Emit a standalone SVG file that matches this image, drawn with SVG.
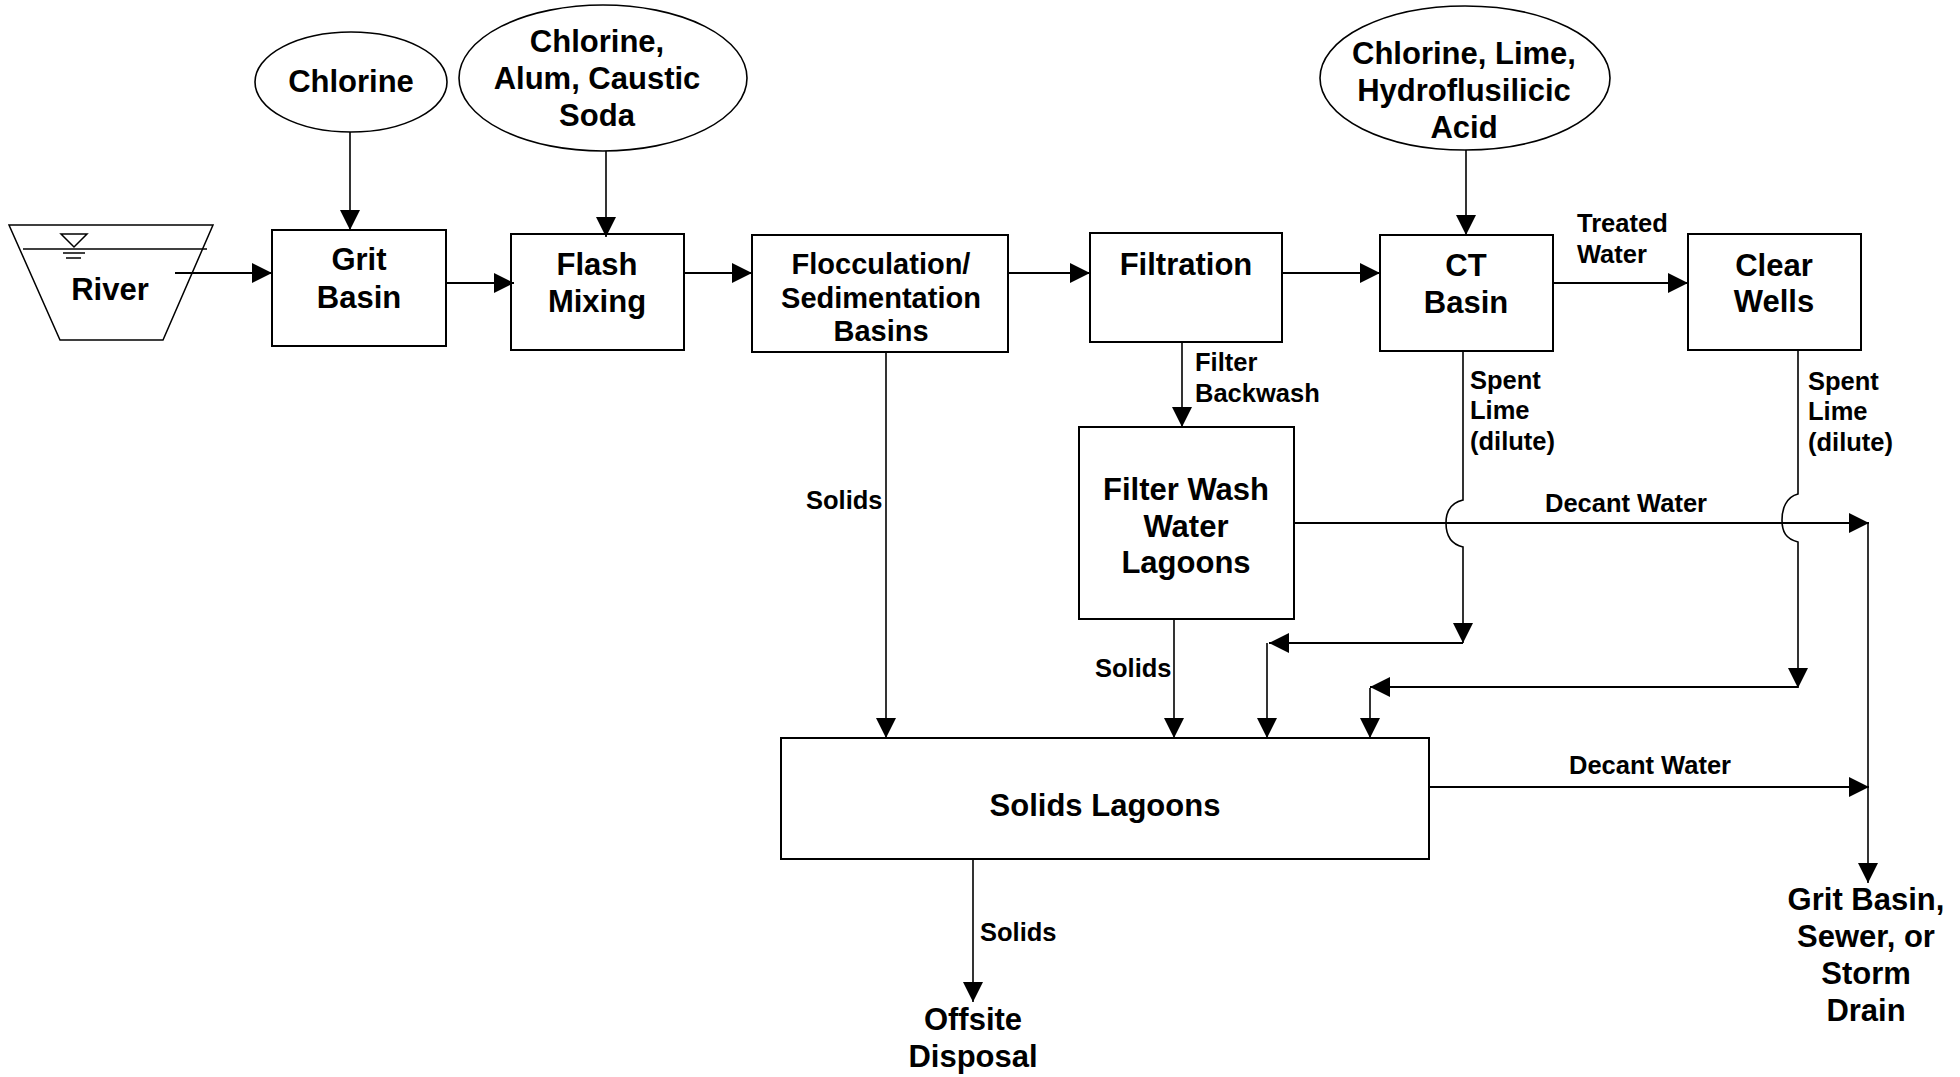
<svg xmlns="http://www.w3.org/2000/svg" width="1960" height="1077" viewBox="0 0 1960 1077">
<style>
.box{fill:#fff;stroke:#000;stroke-width:2}
.ell{fill:#fff;stroke:#000;stroke-width:1.6}
.t{font-family:"Liberation Sans",Arial,sans-serif;font-weight:bold;font-size:31px;fill:#000;text-anchor:middle}
.tf{font-size:29px}
.s{font-family:"Liberation Sans",Arial,sans-serif;font-weight:bold;font-size:25.5px;fill:#000}
.c{fill:none;stroke:#000;stroke-width:2}
.v{fill:none;stroke:#000;stroke-width:1.6}
.thin{fill:none;stroke:#000;stroke-width:1.5}
</style>
<defs>
<marker id="ah" markerUnits="userSpaceOnUse" markerWidth="20" markerHeight="20" refX="20" refY="10" orient="auto">
<path d="M0,0 L20,10 L0,20 z" fill="#000"/>
</marker>
</defs>
<rect width="1960" height="1077" fill="#fff"/>

<g id="river">
<path class="thin" d="M9,225 H213 L163,340 H60 Z"/>
<path class="thin" d="M23,249 H207"/>
<path class="thin" d="M61,234 H87 L74,247 Z"/>
<path class="thin" d="M63,253 H85 M66,258 H81"/>
<text class="t" x="110" y="300">River</text>
</g>

<g id="chlorine1">
<ellipse class="ell" cx="351" cy="82" rx="96" ry="50"/>
<text class="t" x="351" y="92">Chlorine</text>
</g>

<g id="chem2">
<ellipse class="ell" cx="603" cy="78" rx="144" ry="73"/>
<text class="t" x="597" y="52">Chlorine,</text>
<text class="t" x="597" y="89">Alum, Caustic</text>
<text class="t" x="597" y="126">Soda</text>
</g>

<g id="chem3">
<ellipse class="ell" cx="1465" cy="78" rx="145" ry="72"/>
<text class="t" x="1464" y="64">Chlorine, Lime,</text>
<text class="t" x="1464" y="101">Hydroflusilicic</text>
<text class="t" x="1464" y="138">Acid</text>
</g>

<g id="grit">
<rect class="box" x="272" y="230" width="174" height="116"/>
<text class="t" x="359" y="270">Grit</text>
<text class="t" x="359" y="308">Basin</text>
</g>

<g id="flash">
<rect class="box" x="511" y="234" width="173" height="116"/>
<text class="t" x="597" y="275">Flash</text>
<text class="t" x="597" y="312">Mixing</text>
</g>

<g id="floc">
<rect class="box" x="752" y="235" width="256" height="117"/>
<text class="t tf" x="881" y="274">Flocculation/</text>
<text class="t tf" x="881" y="308">Sedimentation</text>
<text class="t tf" x="881" y="341">Basins</text>
</g>

<g id="filtration">
<rect class="box" x="1090" y="233" width="192" height="109"/>
<text class="t" x="1186" y="275">Filtration</text>
</g>

<g id="ct">
<rect class="box" x="1380" y="235" width="173" height="116"/>
<text class="t" x="1466" y="276">CT</text>
<text class="t" x="1466" y="313">Basin</text>
</g>

<g id="clearwells">
<rect class="box" x="1688" y="234" width="173" height="116"/>
<text class="t" x="1774" y="276">Clear</text>
<text class="t" x="1774" y="312">Wells</text>
</g>

<g id="fww">
<rect class="box" x="1079" y="427" width="215" height="192"/>
<text class="t" x="1186" y="500">Filter Wash</text>
<text class="t" x="1186" y="537">Water</text>
<text class="t" x="1186" y="573">Lagoons</text>
</g>

<g id="solidslagoons">
<rect class="box" x="781" y="738" width="648" height="121"/>
<text class="t" x="1105" y="816">Solids Lagoons</text>
</g>

<g id="offsite">
<text class="t" x="973" y="1030">Offsite</text>
<text class="t" x="973" y="1067">Disposal</text>
</g>

<g id="discharge">
<text class="t" x="1866" y="910">Grit Basin,</text>
<text class="t" x="1866" y="947">Sewer, or</text>
<text class="t" x="1866" y="984">Storm</text>
<text class="t" x="1866" y="1021">Drain</text>
</g>

<g id="connectors">
<path class="c" d="M175,273 H272" marker-end="url(#ah)"/>
<path class="c" d="M446,283 H514" marker-end="url(#ah)"/>
<path class="c" d="M684,273 H752" marker-end="url(#ah)"/>
<path class="c" d="M1008,273 H1090" marker-end="url(#ah)"/>
<path class="c" d="M1282,273 H1380" marker-end="url(#ah)"/>
<path class="c" d="M1553,283 H1688" marker-end="url(#ah)"/>
<path class="v" d="M350,132 V230" marker-end="url(#ah)"/>
<path class="v" d="M606,151 V237" marker-end="url(#ah)"/>
<path class="v" d="M1466,150 V235" marker-end="url(#ah)"/>
<path class="v" d="M886,352 V738" marker-end="url(#ah)"/>
<path class="v" d="M1182,342 V427" marker-end="url(#ah)"/>
<path class="v" d="M1174,619 V738" marker-end="url(#ah)"/>
<path class="v" d="M1463,351 V500 C1450,503 1446,512 1446,523 C1446,535 1450,544 1463,547 V643" marker-end="url(#ah)"/>
<path class="c" d="M1463,643 H1269" marker-end="url(#ah)"/>
<path class="v" d="M1267,643 V738" marker-end="url(#ah)"/>
<path class="v" d="M1798,350 V494 C1786,497 1782,509 1782,520 C1782,532 1786,539 1798,542 V688" marker-end="url(#ah)"/>
<path class="c" d="M1798,687 H1370" marker-end="url(#ah)"/>
<path class="v" d="M1370,688 V738" marker-end="url(#ah)"/>
<path class="c" d="M1294,523 H1869" marker-end="url(#ah)"/>
<path class="c" d="M1429,787 H1869" marker-end="url(#ah)"/>
<path class="v" d="M1868,523 V883" marker-end="url(#ah)"/>
<path class="v" d="M973,859 V1002" marker-end="url(#ah)"/>

<text class="s" x="1577" y="232">Treated</text>
<text class="s" x="1577" y="263">Water</text>
<text class="s" x="1195" y="371">Filter</text>
<text class="s" x="1195" y="402">Backwash</text>
<text class="s" x="806" y="509">Solids</text>
<text class="s" x="1095" y="677">Solids</text>
<text class="s" x="980" y="941">Solids</text>
<text class="s" x="1470" y="389">Spent</text>
<text class="s" x="1470" y="419">Lime</text>
<text class="s" x="1470" y="450">(dilute)</text>
<text class="s" x="1808" y="390">Spent</text>
<text class="s" x="1808" y="420">Lime</text>
<text class="s" x="1808" y="451">(dilute)</text>
<text class="s" x="1545" y="512">Decant Water</text>
<text class="s" x="1569" y="774">Decant Water</text>
</g>
</svg>
